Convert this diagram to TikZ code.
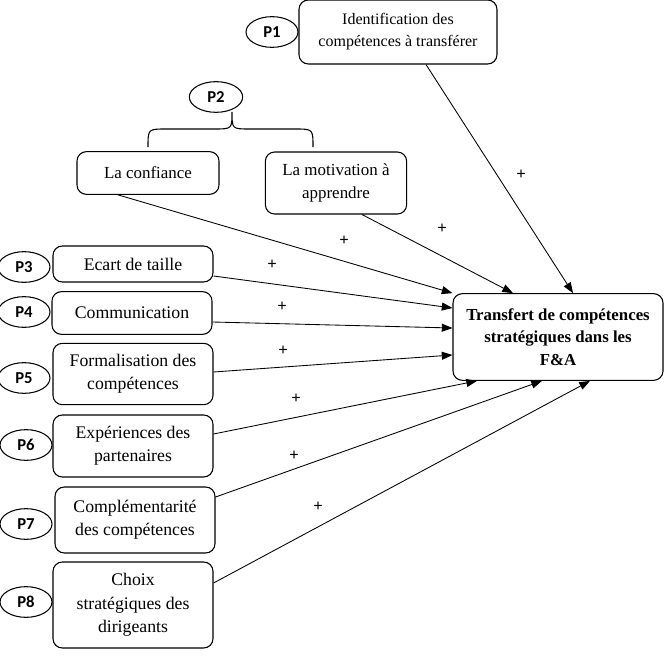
\documentclass[tikz,border=0pt]{standalone}
\usepackage{fontspec}
\setmainfont{Liberation Serif}
\newfontfamily\pfont{Carlito}
\usetikzlibrary{arrows.meta,calc,shapes.geometric}

\begin{document}
\begin{tikzpicture}[x=0.75pt,y=0.75pt,yscale=-1,xscale=1,
  facteur/.style={draw,rounded corners=7pt,line width=0.8pt,align=center,inner sep=1pt,
    minimum width=120pt,font=\fontsize{13.3}{17.5}\selectfont},
  prop/.style={draw,ellipse,line width=0.8pt,minimum width=39pt,minimum height=23pt,inner sep=0pt,
    font=\pfont\bfseries\fontsize{12.5}{13}\selectfont},
  lien/.style={line width=0.65pt,-{Triangle[length=8pt,width=6pt]}},
  signe/.style={font=\bfseries\fontsize{12.5}{12}\selectfont,inner sep=0pt}]
\path[use as bounding box] (0,0) rectangle (667,667);

% Text Node
\node (ident) at (398,32) [facteur,minimum width=148.5pt,minimum height=48pt,font=\fontsize{12}{16.5}\selectfont] {Identification des\\compétences à transférer};
% Text Node
\node (p1) at (272,32) [prop] {P1};
% Text Node
\node (p2) at (216,97) [prop,minimum width=40pt] {P2};
% Text Node
\node (conf) at (148,173) [facteur,minimum width=106.5pt,minimum height=32pt,font=\fontsize{12.7}{17}\selectfont] {La confiance};
% Text Node
\node (motiv) at (336,183) [facteur,minimum width=106pt,minimum height=46.5pt,font=\fontsize{12.7}{17}\selectfont] {La motivation à\\apprendre};
% Text Node
\node (ecart) at (133,264) [facteur,minimum height=27pt] {Ecart de taille};
% Text Node
\node (comm) at (132,313) [facteur,minimum height=32pt] {Communication};
% Text Node
\node (formal) at (133,374) [facteur,minimum height=46pt] {Formalisation des\\compétences};
% Text Node
\node (exper) at (133,446) [facteur,minimum height=46.5pt] {Expériences des\\partenaires};
% Text Node
\node (compl) at (135,520) [facteur,minimum height=49.5pt] {Complémentarité\\des compétences};
% Text Node
\node (choix) at (133,605) [facteur,minimum height=64.5pt] {Choix\\stratégiques des\\dirigeants};
% Text Node
\node (p3) at (24,267) [prop] {P3};
\node (p4) at (24,312) [prop] {P4};
\node (p5) at (24,378) [prop] {P5};
\node (p6) at (26,445) [prop] {P6};
\node (p7) at (26,524) [prop] {P7};
\node (p8) at (26,602) [prop] {P8};
% Text Node
\node (tfc) at (558,337) [facteur,minimum width=157.5pt,minimum height=65pt,font=\bfseries\fontsize{12.6}{17}\selectfont] {Transfert de compétences\\stratégiques dans les\\F\&A};

%Curve Lines (accolade P2)
\draw [line width=0.8pt] (148,147) .. controls (148,129) .. (166,129) -- (214,129) .. controls (232,129) .. (232,112) .. controls (232,129) .. (250,129) -- (295,129) .. controls (313,129) .. (313,147);

%Straight Lines
\draw [lien] ($(ident.south)+(28,0)$) -- ($(tfc.north)+(15,0)$);
\draw [lien] ($(motiv.south)+(26,0)$) -- ($(tfc.north)+(-45,0)$);
\draw [lien] ($(conf.south)+(-30,0)$) -- (tfc.north west);
\draw [lien] ($(ecart.east)+(0,12)$) -- ($(tfc.west)+(0,-29)$);
\draw [lien] ($(comm.east)+(0,9)$) -- ($(tfc.west)+(0,-9)$);
\draw [lien] ($(formal.east)+(0,-2)$) -- ($(tfc.west)+(0,18)$);
\draw [lien] ($(exper.east)+(0,-12)$) -- ($(tfc.south)+(-81,0)$);
\draw [lien] ($(compl.east)+(0,-23)$) -- ($(tfc.south)+(-16,0)$);
\draw [lien] ($(choix.east)+(0,-22)$) -- ($(tfc.south)+(32,0)$);

% Text Node
\node (s1) at (521,175) [signe] {+};
\node (s2) at (442,229) [signe] {+};
\node (s3) at (344,241) [signe] {+};
\node (s4) at (272,265) [signe] {+};
\node (s5) at (282,307) [signe] {+};
\node (s6) at (283,351) [signe] {+};
\node (s7) at (296,399) [signe] {+};
\node (s8) at (294,456) [signe] {+};
\node (s9) at (318,507) [signe] {+};

\end{tikzpicture}
\end{document}
